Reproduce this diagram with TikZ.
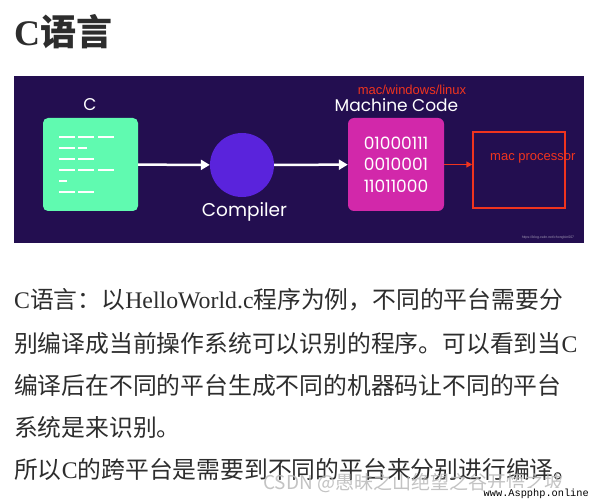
\documentclass[tikz,border=0pt]{standalone}
\usepackage{fontspec}
\setmainfont{Liberation Serif}
\newfontfamily\cjk{Noto Sans CJK SC}
\newfontfamily\pop{Poppins}
\newfontfamily\ari{Liberation Sans}
\newfontfamily\mono{Liberation Mono}
\usetikzlibrary{positioning}
\usetikzlibrary{arrows.meta}
\definecolor{bannerbg}{RGB}{35,14,80}
\definecolor{mint}{RGB}{96,250,176}
\definecolor{compviolet}{RGB}{90,35,220}
\definecolor{codepink}{RGB}{210,40,170}
\definecolor{procred}{RGB}{240,52,30}
\definecolor{inkgray}{RGB}{45,45,45}

\begin{document}
\begin{tikzpicture}[x=1pt,y=-1pt,
    lbl/.style={text=white,inner sep=0pt,font=\pop\fontsize{17}{20}\selectfont},
    redlbl/.style={text=procred,inner sep=0pt,font=\ari\fontsize{13}{15}\selectfont},
    srcbox/.style={fill=mint,rounded corners=5pt,minimum width=95pt,minimum height=93pt},
    compcircle/.style={circle,fill=compviolet,minimum size=64pt,inner sep=0pt},
    codebox/.style={fill=codepink,rounded corners=6pt,minimum width=96pt,minimum height=93pt,
        align=center,text=white,font=\pop\fontsize{17}{21.5}\selectfont},
    cpubox/.style={draw=procred,line width=1.5pt,minimum width=92pt,minimum height=76pt},
    codeline/.style={white,line width=2.6pt},
    flow/.style={white,line width=2.5pt,-{Triangle[length=9pt,width=10pt]}},
    redflow/.style={procred,line width=1.5pt,-{Triangle[length=6pt,width=6pt]}},
    para/.style={anchor=west,inner sep=0pt,text=inkgray,font=\fontsize{23.8}{24}\selectfont}]
    \useasboundingbox (0,0) rectangle (590,500);
    \fill[white] (0,0) rectangle (590,500);

    \node[anchor=west,inner sep=0pt,text=inkgray,font=\bfseries\fontsize{36}{38}\selectfont] (title) at (14,32) {C{\cjk 语言}};

    \fill[bannerbg] (14,76) rectangle (584,243);

    \node[srcbox] (src) at (90.5,164.5) {};
    \node[lbl] (srclbl) at (90,105) {C};
    \foreach \y/\a/\b in {137/59/75,137/78/94,137/98/114,148/59/75,148/78/87,
        159/59/75,159/78/94,170/59/75,170/78/94,170/98/114,181/59/67,192/59/75,192/78/94}
        \draw[codeline] (\a,\y) -- (\b,\y);

    \node[compcircle] (comp) at (242,165) {};
    \node[lbl,font=\pop\fontsize{18.5}{20}\selectfont] (complbl) at (244.5,212) {Compiler};

    \node[codebox] (mcode) at (396,164.5) {01000111\\0010001\\11011000};
    \node[lbl] (mcodelbl) at (396.5,105) {Machine Code};
    \node[redlbl] (oslbl) at (412,90) {mac/windows/linux};

    \node[cpubox] (cpu) at (519,170) {};
    \node[redlbl,anchor=west] (cpulbl) at (490,158) {mac processor};

    \draw[flow] (src) -- (comp);
    \draw[flow] (comp) -- (mcode);
    \draw[redflow] (mcode.east) -- (mcode.east -| cpu.west);

    \node[text=white!55!bannerbg,inner sep=0pt,font=\ari\fontsize{3.5}{4}\selectfont] (url) at (548,238) {https://blog.csdn.net/chongbin007};

    \node[para] (line1) at (14,300) {C{\cjk 语言：以}HelloWorld.c{\cjk 程序为例，不同的平台需要分}};
    \node[para] (line2) at (14,343) {{\cjk 别编译成当前操作系统可以识别的程序。可以看到当}C};
    \node[para] (line3) at (14,385) {{\cjk 编译后在不同的平台生成不同的机器码让不同的平台}};
    \node[para] (line4) at (14,427) {{\cjk 系统是来识别。}};
    \node[para] (line5) at (14,469) {{\cjk 所以}C{\cjk 的跨平台是需要到不同的平台来分别进行编译。}};

    \node[anchor=west,inner sep=0pt,text=gray!55,opacity=0.85,font=\cjk\fontsize{19}{20}\selectfont] (csdn) at (263,483) {CSDN @愚昧之山绝望之谷开悟之坡};
    \node[anchor=south east,fill=white,inner sep=1pt,font=\mono\fontsize{10.3}{11}\selectfont] (site) at (590,500) {www.Aspphp.online};
\end{tikzpicture}
\end{document}
